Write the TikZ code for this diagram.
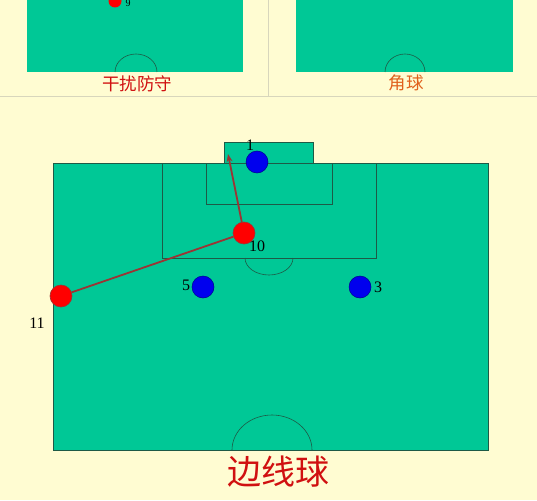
\documentclass[tikz,border=0pt]{standalone}
\usepackage{fontspec}
\setmainfont{Liberation Serif}
\newfontfamily\cjk{Noto Sans CJK SC}
\usetikzlibrary{arrows.meta}
\definecolor{bg}{HTML}{FFFCD2}
\definecolor{pitch}{HTML}{00C896}
\definecolor{pline}{HTML}{1E5A46}
\definecolor{divl}{HTML}{D8D6BC}
\definecolor{passc}{HTML}{9C3434}
\definecolor{redp}{HTML}{FF0000}
\definecolor{bluep}{HTML}{0000EE}
\definecolor{titlered}{HTML}{D01010}
\definecolor{orangec}{HTML}{E0601C}
\tikzset{
  field/.style={fill=pitch,draw=pline,line width=0.7pt},
  mark line/.style={draw=pline,line width=0.6pt},
  redplayer/.style={circle,fill=redp,draw=passc,line width=0.6pt,minimum size=22pt,inner sep=0pt},
  blueplayer/.style={circle,fill=bluep,draw=bluep!60!black,line width=0.5pt,minimum size=22pt,inner sep=0pt},
  num/.style={font=\fontsize{16}{16}\selectfont,text=black,inner sep=0pt},
  pass/.style={draw=passc,line width=1.8pt},
  divider/.style={draw=divl,line width=1pt}
}
\begin{document}
\begin{tikzpicture}[x=1pt,y=-1pt]
\useasboundingbox (0,0) rectangle (537,500);
\fill[bg] (0,0) rectangle (537,500);
% dividers
\draw[divider] (268,0) -- (268,97);
\draw[divider] (0,97) -- (537,97);
% top-left panel
\fill[pitch] (27,-2) rectangle (243,72);
\draw[mark line] (115,72) arc[start angle=180,end angle=360,x radius=21,y radius=18];
\node[circle,fill=redp,minimum size=13pt,inner sep=0pt] (p9) at (115,1) {};
\node[font=\fontsize{10}{10}\selectfont,inner sep=0pt] (l9) at (128,3) {9};
\node[font=\cjk\fontsize{17.5}{17.5}\selectfont,text=titlered] (t1) at (137,84) {干扰防守};
% top-right panel
\fill[pitch] (296,-2) rectangle (513,72);
\draw[mark line] (385,72) arc[start angle=180,end angle=360,x radius=20,y radius=18];
\node[font=\cjk\fontsize{17.5}{17.5}\selectfont,text=orangec] (t2) at (406,83) {角球};
% main pitch
\draw[field] (224,142) rectangle (313,164);
\draw[field] (53,163) rectangle (488,450);
\draw[mark line] (162,163) rectangle (376,258);
\draw[mark line] (206,163) rectangle (332,204);
\draw[mark line] (245,258) arc[start angle=180,end angle=0,x radius=24,y radius=17];
\draw[mark line] (232,450) arc[start angle=180,end angle=360,x radius=40,y radius=35];
% players
\node[blueplayer] (b1) at (257,162) {};
\node[num] (l1) at (250,145) {1};
\node[redplayer] (r10) at (244,233) {};
\node[num] (l10) at (257,246) {10};
\node[blueplayer] (b5) at (203,287) {};
\node[num] (l5) at (186,285) {5};
\node[blueplayer] (b3) at (360,287) {};
\node[num] (l3) at (378,287) {3};
\node[redplayer] (r11) at (61,296) {};
\node[num] (l11) at (37,323) {11};
\coordinate (tgt) at (228,154);
% passes
\draw[pass] (r11) -- (r10);
\draw[pass,-{Stealth[length=8pt,width=6pt]}] (r10) -- (tgt);
% title
\node[font=\cjk\fontsize{34}{34}\selectfont,text=titlered] (title) at (278,472) {边线球};
\end{tikzpicture}
\end{document}
